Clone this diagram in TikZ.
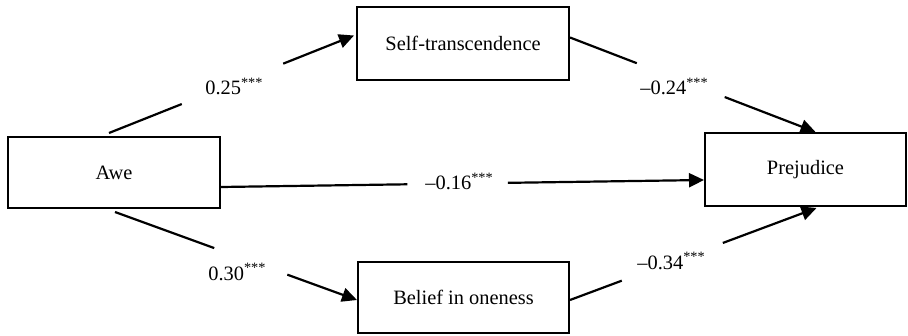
\documentclass[tikz,border=0pt]{standalone}
\usepackage{fontspec}
\setmainfont{Liberation Serif}
\usetikzlibrary{arrows.meta,calc}
\begin{document}
\begin{tikzpicture}[x=0.5pt,y=-0.5pt,
  box/.style={draw, line width=1pt, inner sep=0pt, font=\fontsize{10.2}{12}\selectfont},
  conn/.style={line width=1.1pt},
  arr/.style={line width=1.1pt, -{Triangle[length=7.5pt,width=7pt]}},
  coef/.style={inner sep=0pt, anchor=base west, font=\fontsize{10.2}{12}\selectfont}]
\useasboundingbox (0,0) rectangle (908,336);
\node[box, minimum width=106pt, minimum height=35.5pt] (awe) at (114,172.5) {Awe};
\node[box, minimum width=106pt, minimum height=36.5pt] (self) at (463,43.5) {Self-transcendence};
\node[box, minimum width=105.5pt, minimum height=35.5pt] (belief) at (463.5,297.5) {Belief in oneness};
\node[box, minimum width=100.5pt, minimum height=36.5pt] (prej) at (805.5,169.5) {Prejudice};
% anchor points
\coordinate (s1) at ($(awe.north)+(-5,-3)$);
\coordinate (e1) at ($(self.west)+(-2,-8)$);
\coordinate (s2) at ($(self.east)+(0,-6)$);
\coordinate (e2) at ($(prej.north)+(10,0)$);
\coordinate (s3) at ($(awe.south)+(1,3)$);
\coordinate (e3) at ($(belief.west)+(0,2.5)$);
\coordinate (s4) at ($(belief.east)+(0,2.5)$);
\coordinate (e4) at ($(prej.south)+(11,1)$);
\coordinate (s5) at ($(awe.east)+(0,14.5)$);
\coordinate (e5) at ($(prej.west)+(0,10.5)$);
% connectors with gaps for labels
\draw[conn] (s1) -- ($(s1)!0.297!(e1)$);
\draw[arr] ($(s1)!0.711!(e1)$) -- (e1);
\draw[conn] (s2) -- ($(s2)!0.272!(e2)$);
\draw[arr] ($(s2)!0.63!(e2)$) -- (e2);
\draw[conn] (s3) -- ($(s3)!0.41!(e3)$);
\draw[arr] ($(s3)!0.712!(e3)$) -- (e3);
\draw[conn] (s4) -- ($(s4)!0.21!(e4)$);
\draw[arr] ($(s4)!0.62!(e4)$) -- (e4);
\draw[conn] (s5) -- ($(s5)!0.386!(e5)$);
\draw[arr] ($(s5)!0.594!(e5)$) -- (e5);
% coefficients
\node[coef] (c1) at (205,95) {0.25\textsuperscript{***}};
\node[coef] (c2) at (640,95) {–0.24\textsuperscript{***}};
\node[coef] (c5) at (425,190) {–0.16\textsuperscript{***}};
\node[coef] (c3) at (208,280) {0.30\textsuperscript{***}};
\node[coef] (c4) at (637,269) {–0.34\textsuperscript{***}};
\end{tikzpicture}
\end{document}
